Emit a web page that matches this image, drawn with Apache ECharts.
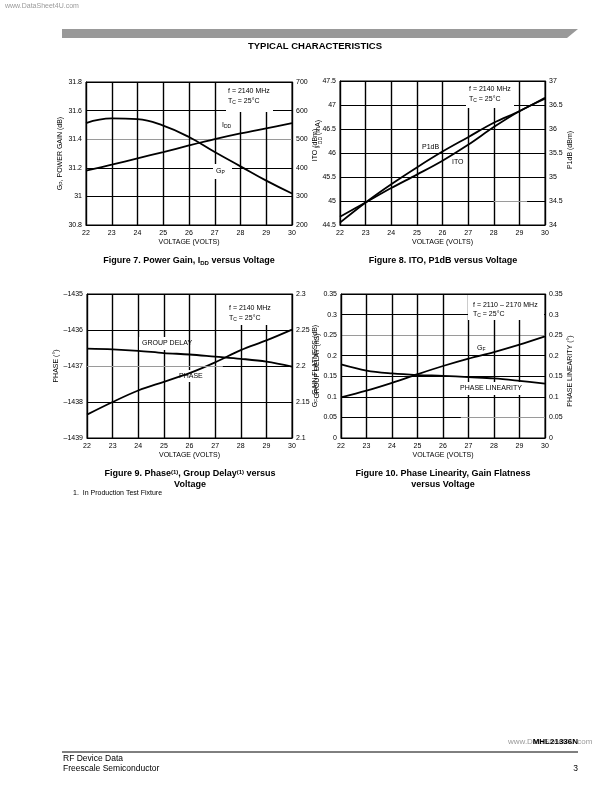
<!DOCTYPE html>
<html><head><meta charset="utf-8">
<script src="https://cdn.jsdelivr.net/npm/echarts@6/dist/echarts.min.js"></script>
<style>html,body{margin:0;padding:0;background:#fff}#c{width:612px;height:792px}</style>
</head><body><div id="c"></div>
<script>
// ---------- data ----------
const voltage = [22, 23, 24, 25, 26, 27, 28, 29, 30];
// Figure 7
const powerGainGp = [31.513, 31.545, 31.54, 31.495, 31.415, 31.31, 31.21, 31.11, 31.02];
const drainCurrentIdd = [390, 411, 433, 455, 478, 500, 520, 538, 556];
// Figure 8
const itoDbm = [44.67, 44.97, 45.27, 45.55, 45.84, 46.17, 46.54, 46.87, 47.13];
const p1dbDbm = [34.05, 34.47, 34.85, 35.20, 35.53, 35.83, 36.13, 36.37, 36.65];
// Figure 9
const phaseDeg = [-1438.35, -1438.0, -1437.68, -1437.44, -1437.2, -1436.9, -1436.56, -1436.29, -1435.99];
const groupDelayNs = [2.224, 2.223, 2.221, 2.218, 2.216, 2.213, 2.210, 2.206, 2.199];
// Figure 10
const gainFlatnessDb = [0.099, 0.115, 0.134, 0.155, 0.175, 0.193, 0.209, 0.227, 0.247];
const phaseLinearityDeg = [0.179, 0.164, 0.157, 0.153, 0.151, 0.148, 0.145, 0.139, 0.132];
// axis ticks
const voltageTicks = [22, 23, 24, 25, 26, 27, 28, 29, 30];
const gainTicks = [30.8, 31.0, 31.2, 31.4, 31.6, 31.8];
const iddTicks = [200, 300, 400, 500, 600, 700];
const itoTicks = [44.5, 45, 45.5, 46, 46.5, 47, 47.5];
const p1dbTicks = [34, 34.5, 35, 35.5, 36, 36.5, 37];
const phaseTicks = [-1439, -1438, -1437, -1436, -1435];
const delayTicks = [2.1, 2.15, 2.2, 2.25, 2.3];
const flatTicks = [0, 0.05, 0.1, 0.15, 0.2, 0.25, 0.3, 0.35];
const linTicks = [0, 0.05, 0.1, 0.15, 0.2, 0.25, 0.3, 0.35];

// ---------- styling ----------
const FONT = '"Liberation Sans", Arial, Helvetica, sans-serif';
const RICH = {
  sub: { fontSize: 5, padding: [4, 0, 0, 0], fontFamily: FONT, color: '#000' },
  subB: { fontSize: 6, padding: [4, 0, 0, 0], fontFamily: FONT, fontWeight: 'bold', color: '#000' },
  supB: { fontSize: 6, padding: [0, 0, 4, 0], fontFamily: FONT, fontWeight: 'bold', color: '#000' }
};
const GRAY = '#9a9a9a';
const pairs = ys => voltage.map((v, i) => [v, ys[i]]);
const step = t => +(t[1] - t[0]).toFixed(4);
const fmt = v => (v < 0 ? '\u2013' + String(Math.abs(v)) : String(+v.toFixed(4)));

function xAx(g) {
  return {
    type: 'value', gridIndex: g, min: voltageTicks[0], max: voltageTicks[voltageTicks.length - 1], interval: step(voltageTicks),
    name: 'VOLTAGE (VOLTS)', nameLocation: 'middle', nameGap: 14,
    nameTextStyle: { fontSize: 7, color: '#000', fontFamily: FONT },
    axisLine: { show: true, onZero: false, lineStyle: { color: '#000', width: 1 } },
    axisTick: { show: false },
    axisLabel: { fontSize: 7, color: '#000', margin: 5, fontFamily: FONT, formatter: fmt },
    splitLine: { show: true, lineStyle: { color: '#000', width: 1.4 } }
  };
}
function yAx(g, pos, ticks, name, gap, split, pad) {
  return {
    type: 'value', gridIndex: g, position: pos,
    min: ticks[0], max: ticks[ticks.length - 1], interval: step(ticks),
    name: name, nameLocation: 'middle', nameGap: gap, nameRotate: 90,
    nameTextStyle: { fontSize: 7, color: '#000', fontFamily: FONT, rich: RICH, padding: pad || [0, 0, 0, 0] },
    axisLine: { show: true, onZero: false, lineStyle: { color: '#000', width: 1 } },
    axisTick: { show: false },
    axisLabel: { fontSize: 7, color: '#000', margin: 4, fontFamily: FONT, formatter: fmt },
    splitLine: split ? { show: true, lineStyle: { color: split, width: 1 } } : { show: false }
  };
}
function line(xi, yi, data, extra) {
  return Object.assign({
    type: 'line', xAxisIndex: xi, yAxisIndex: yi, data: data, smooth: 0.35,
    symbol: 'none', showSymbol: false, silent: true, z: 3,
    lineStyle: { color: '#000', width: 1.8 }
  }, extra || {});
}
function grayMark(a, b) {
  return { silent: true, symbol: 'none', label: { show: false },
    lineStyle: { color: GRAY, width: 1, type: 'solid' },
    data: [[{ coord: a }, { coord: b }]] };
}
function T(x, y, text, o) {
  return { type: 'text', x: x, y: y, z: 4,
    style: Object.assign({ text: text, fontSize: 7, fontFamily: FONT, fill: '#000', align: 'left', verticalAlign: 'middle', rich: RICH }, o || {}) };
}
function R(x, y, w, h) { return { type: 'rect', z: 1, shape: { x: x, y: y, width: w, height: h }, style: { fill: '#fff' } }; }

const B = { fontWeight: 'bold', fontSize: 9, align: 'center' };

const option = {
  animation: false,
  backgroundColor: '#fff',
  grid: [
    { left: 86, top: 82, width: 206, height: 143, show: true, borderColor: '#000', borderWidth: 1, outerBoundsMode: 'none' },
    { left: 340, top: 81, width: 205, height: 144, show: true, borderColor: '#000', borderWidth: 1, outerBoundsMode: 'none' },
    { left: 87, top: 294, width: 205, height: 144, show: true, borderColor: '#000', borderWidth: 1, outerBoundsMode: 'none' },
    { left: 341, top: 294, width: 204, height: 144, show: true, borderColor: '#000', borderWidth: 1, outerBoundsMode: 'none' }
  ],
  xAxis: [xAx(0), xAx(1), xAx(2), xAx(3)],
  yAxis: [
    yAx(0, 'left', gainTicks, 'G{sub|P}, POWER GAIN (dB)', 20, ['#000', '#000', '#000', GRAY, '#000', '#000']),
    yAx(0, 'right', iddTicks, 'I {sub|DD} (mA)', 22, null, [0, 0, 0, 39]),
    yAx(1, 'left', itoTicks, 'ITO (dBm)', 11, '#000', [0, 0, 0, 16]),
    yAx(1, 'right', p1dbTicks, 'P1dB (dBm)', 17.5, null, [0, 0, 0, 6]),
    yAx(2, 'left', phaseTicks, 'PHASE (°)', 21, '#000'),
    yAx(2, 'right', delayTicks, 'GROUP DELAY (nS)', 15, null),
    yAx(3, 'left', flatTicks, 'G{sub|F}, GAIN FLATNESS (dB)', 16, ['#000', '#000', '#000', '#000', '#000', GRAY, '#000', '#000']),
    yAx(3, 'right', linTicks, 'PHASE LINEARITY (°)', 17, null, [0, 10, 0, 0])
  ],
  series: [
    line(0, 0, pairs(powerGainGp), { name: 'Gp', smooth: 0.45 }),
    line(0, 1, pairs(drainCurrentIdd), { name: 'IDD' }),
    line(1, 2, pairs(itoDbm), { name: 'ITO', markLine: grayMark([28, 45], [29.3, 45]) }),
    line(1, 3, pairs(p1dbDbm), { name: 'P1dB' }),
    line(2, 4, pairs(phaseDeg), { name: 'PHASE', markLine: grayMark([22, -1437], [27.3, -1437]) }),
    line(2, 5, pairs(groupDelayNs), { name: 'GROUP DELAY' }),
    line(3, 6, pairs(gainFlatnessDb), { name: 'GF', markLine: grayMark([26.7, 0.05], [30, 0.05]) }),
    line(3, 7, pairs(phaseLinearityDeg), { name: 'PHASE LINEARITY' })
  ],
  graphic: [
    // header
    T(5, 6, 'www.DataSheet4U.com', { fill: '#9a9a9a', fontSize: 7 }),
    { type: 'polygon', z: 1, shape: { points: [[62, 29], [578, 29], [567, 38], [62, 38]] }, style: { fill: '#999' } },
    T(315, 46, 'TYPICAL CHARACTERISTICS', { fontWeight: 'bold', fontSize: 9.5, align: 'center' }),
    // fig 7 annotations
    R(226, 83, 47, 29),
    T(228, 91, 'f = 2140 MHz'),
    T(228, 101, 'T{sub|C} = 25°C'),
    T(222, 125, 'I{sub|DD}'),
    R(213, 164, 19, 15),
    T(216, 171, 'G{sub|P}'),
    // fig 8 annotations
    R(466, 82, 48, 26),
    T(469, 89, 'f = 2140 MHz'),
    T(469, 99, 'T{sub|C} = 25°C'),
    T(422, 147, 'P1dB'),
    T(452, 162, 'ITO'),
    // fig 9 annotations
    R(227, 295, 44, 30),
    T(229, 308, 'f = 2140 MHz'),
    T(229, 318, 'T{sub|C} = 25°C'),
    R(139, 337, 46, 13),
    T(142, 343, 'GROUP DELAY'),
    R(177, 370, 27, 12),
    T(179, 376, 'PHASE'),
    // fig 10 annotations
    R(468, 295, 76, 25),
    T(473, 305, 'f = 2110 – 2170 MHz'),
    T(473, 314, 'T{sub|C} = 25°C'),
    T(477, 348, 'G{sub|F}'),
    R(457, 382, 64, 13),
    T(460, 388, 'PHASE LINEARITY'),
    // captions
    T(189, 261, 'Figure 7. Power Gain, I{subB|DD} versus Voltage', B),
    T(443, 261, 'Figure 8. ITO, P1dB versus Voltage', B),
    T(190, 474, 'Figure 9. Phase{supB|(1)}, Group Delay{supB|(1)} versus', B),
    T(190, 485, 'Voltage', B),
    T(443, 474, 'Figure 10. Phase Linearity, Gain Flatness', B),
    T(443, 485, 'versus Voltage', B),
    T(73, 493, '1.  In Production Test Fixture', { fontSize: 7 }),
    // footer
    T(508, 742, 'www.DataSheet4U.com', { fill: '#9a9a9a', fontSize: 8 }),
    T(578, 742, 'MHL21336N', { fontWeight: 'bold', fontSize: 8, align: 'right' }),
    { type: 'line', z: 1, shape: { x1: 62, y1: 752, x2: 578, y2: 752 }, style: { stroke: '#000', lineWidth: 1 } },
    T(63, 759, 'RF Device Data', { fontSize: 8.5 }),
    T(63, 769, 'Freescale Semiconductor', { fontSize: 8.5 }),
    T(578, 769, '3', { fontSize: 8.5, align: 'right' })
  ]
};
const chart = echarts.init(document.getElementById('c'), null, { renderer: 'canvas', width: 612, height: 792 });
chart.setOption(option);
</script></body></html>
